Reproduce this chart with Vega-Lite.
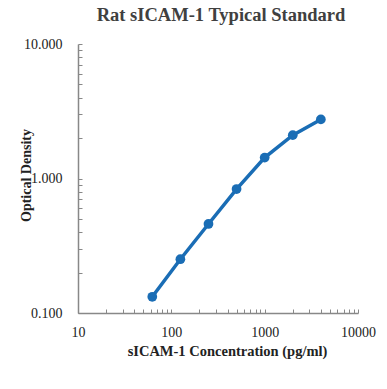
{
  "$schema": "https://vega.github.io/schema/vega-lite/v6.json",
  "width": 280,
  "height": 269,
  "autosize": {"type": "none"},
  "padding": {"left": 78, "top": 44, "right": 29, "bottom": 76},
  "background": "white",
  "title": {
    "text": "Rat sICAM-1 Typical Standard",
    "font": "Liberation Serif",
    "fontSize": 18.5,
    "fontWeight": "bold",
    "color": "#404040",
    "anchor": "middle",
    "dx": 3,
    "offset": 13
  },
  "config": {
    "view": {"stroke": null},
    "axis": {
      "grid": false,
      "domainColor": "#888888",
      "domainWidth": 1.5,
      "tickColor": "#888888",
      "tickWidth": 1,
      "labelFont": "Liberation Serif",
      "labelFontSize": 14,
      "labelColor": "#222222",
      "labelFlush": false,
      "titleFont": "Liberation Serif",
      "titleFontSize": 14.5,
      "titleFontWeight": "bold",
      "titleColor": "#222222",
      "labelOverlap": false
    }
  },
  "data": {
    "values": [
      {"conc": 62.5, "od": 0.132},
      {"conc": 125, "od": 0.251},
      {"conc": 250, "od": 0.459},
      {"conc": 500, "od": 0.835},
      {"conc": 1000, "od": 1.43},
      {"conc": 2000, "od": 2.1},
      {"conc": 4000, "od": 2.75}
    ]
  },
  "encoding": {
    "x": {
      "field": "conc",
      "type": "quantitative",
      "scale": {"type": "log", "domain": [10, 10000], "nice": false},
      "axis": {
        "title": "sICAM-1 Concentration (pg/ml)",
        "values": [10,20,30,40,50,60,70,80,90,100,200,300,400,500,600,700,800,900,1000,2000,3000,4000,5000,6000,7000,8000,9000,10000],
        "labelExpr": "indexof([10,100,1000,10000], datum.value) >= 0 ? format(datum.value, 'd') : ''",
        "tickSize": -4,
        "labelPadding": 16,
        "titlePadding": 5,
        "titleX": 149
      }
    },
    "y": {
      "field": "od",
      "type": "quantitative",
      "scale": {"type": "log", "domain": [0.1, 10], "nice": false},
      "axis": {
        "title": "Optical Density",
        "values": [0.1,0.2,0.3,0.4,0.5,0.6,0.7,0.8,0.9,1,2,3,4,5,6,7,8,9,10],
        "labelExpr": "indexof([0.1,1,10], datum.value) >= 0 ? format(datum.value, '.3f') : ''",
        "tickSize": -4,
        "labelPadding": 20,
        "titleX": -45,
        "titleY": 131,
        "titleFontSize": 14
      }
    }
  },
  "layer": [
    {"mark": {"type": "line", "color": "#1a6db5", "strokeWidth": 3.5}},
    {"mark": {"type": "circle", "color": "#1a6db5", "opacity": 1, "size": 95}}
  ]
}
